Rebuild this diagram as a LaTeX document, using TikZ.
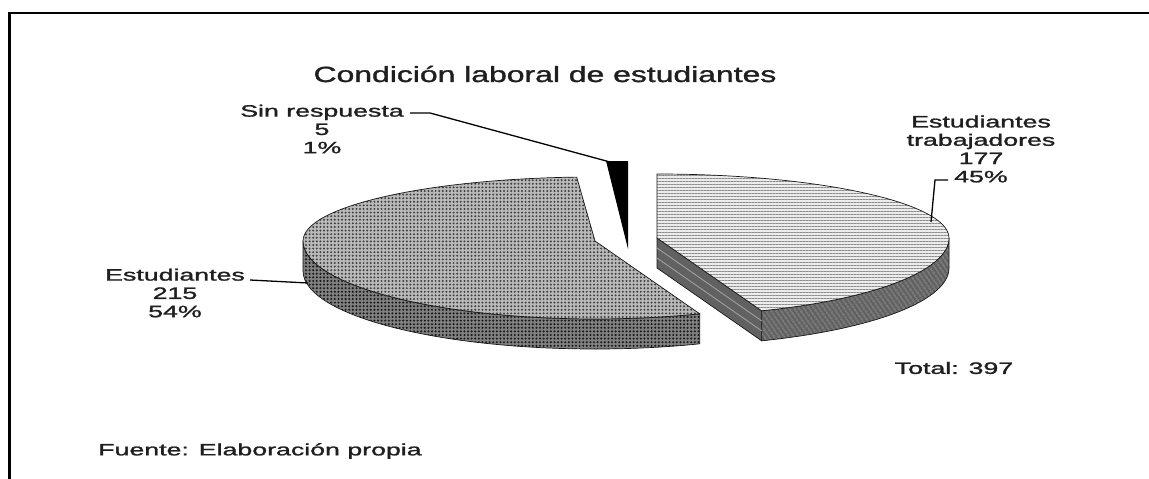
\documentclass[tikz,border=0pt]{standalone}
\usepackage{fontspec}
\setmainfont{Liberation Sans}
\newfontfamily\lblfont[FakeBold=1.2]{Liberation Sans}
\usetikzlibrary{patterns.meta,calc}
\newcommand{\sx}[1]{\scalebox{1.62}[1]{#1}}
\begin{document}
\begin{tikzpicture}[x=1pt,y=-1pt,
  lbl/.style={font=\lblfont\fontsize{16.5}{18.3}\selectfont, text=black!88, align=center, inner sep=0pt},
  ttl/.style={font=\lblfont\fontsize{22}{24}\selectfont, text=black!88, inner sep=0pt},
  lead/.style={line width=1.3pt, black},
  estTop/.style={preaction={fill=gray!55}, pattern={Dots[distance=3.6pt,radius=1.1pt]}, pattern color=black!75},
  estSide/.style={preaction={fill=black!50}, pattern={Dots[distance=3.6pt,radius=1.15pt]}, pattern color=black!90},
  etTop/.style={preaction={fill=gray!15}, pattern={Lines[angle=0,distance=3pt,line width=1pt]}, pattern color=gray!90},
  etSide/.style={preaction={fill=black!62}, pattern={Lines[angle=-55,distance=4pt,line width=0.9pt]}, pattern color=gray!70},
  etCut/.style={fill=black!62},
  edge/.style={draw=black!90, line width=0.7pt}
]
\useasboundingbox (0,0) rectangle (1149,479);
% frame
\draw[line width=2.6pt] (9.5,479) -- (9.5,13) -- (1149,13);

% ---------- Estudiantes trabajadores slice ----------
\coordinate (c1) at (657,238);
\path[etSide] (949,238) arc[start angle=0,end angle=69,x radius=292,y radius=78] -- ++(0,30)
   arc[start angle=69,end angle=0,x radius=292,y radius=78] -- cycle;
\draw[edge] (949,238) arc[start angle=0,end angle=69,x radius=292,y radius=78] -- ++(0,30)
   arc[start angle=69,end angle=0,x radius=292,y radius=78] -- cycle;
\path[etCut,edge] (c1) -- ($(c1)+(104.6,72.8)$) -- ++(0,30) -- ($(c1)+(0,30)$) -- cycle;
\draw[gray!75, line width=0.9pt] ($(c1)+(0,10)$) -- ($(c1)+(104.6,82.8)$);
\draw[gray!75, line width=0.9pt] ($(c1)+(0,20)$) -- ($(c1)+(104.6,92.8)$);
\path[etTop] (c1) -- ++(0,-64) arc[start angle=-90,end angle=0,x radius=292,y radius=64]
   arc[start angle=0,end angle=69,x radius=292,y radius=78] -- cycle;
\draw[edge] (c1) -- ++(0,-64) arc[start angle=-90,end angle=0,x radius=292,y radius=64]
   arc[start angle=0,end angle=69,x radius=292,y radius=78] -- cycle;

% ---------- Estudiantes slice ----------
\coordinate (c2) at (595,241);
\path[estSide] (303,241) arc[start angle=-180,end angle=-291,x radius=292,y radius=78] -- ++(0,30)
   arc[start angle=-291,end angle=-180,x radius=292,y radius=78] -- cycle;
\draw[edge] (303,241) arc[start angle=-180,end angle=-291,x radius=292,y radius=78] -- ++(0,30)
   arc[start angle=-291,end angle=-180,x radius=292,y radius=78] -- cycle;
\path[estTop] (c2) -- ($(c2)+(-18.3,-63.9)$) arc[start angle=-93.6,end angle=-180,x radius=292,y radius=64]
   arc[start angle=-180,end angle=-291,x radius=292,y radius=78] -- cycle;
\draw[edge] (c2) -- ($(c2)+(-18.3,-63.9)$) arc[start angle=-93.6,end angle=-180,x radius=292,y radius=64]
   arc[start angle=-180,end angle=-291,x radius=292,y radius=78] -- cycle;

% ---------- Sin respuesta slice ----------
\path[fill=black] (606,161) -- (628,161) -- (628,249) -- cycle;

% ---------- labels ----------
\node[ttl] (title) at (545,74) {\scalebox{1.45}[1]{Condición laboral de estudiantes}};
\node[lbl] (sr) at (322,129) {\sx{Sin respuesta}\\\sx{5}\\\sx{1\%}};
\node[lbl] (est) at (175,293) {\sx{Estudiantes}\\\sx{215}\\\sx{54\%}};
\node[lbl] (et) at (981,149) {\sx{Estudiantes}\\\sx{trabajadores}\\\sx{177}\\\sx{45\%}};
\node[lbl] (tot) at (954,368) {\sx{Total: 397}};
\node[lbl] (src) at (260,451) {\sx{Fuente: Elaboración propia}};

% ---------- leader lines ----------
\coordinate (srA) at (410,113);
\coordinate (srB) at (430,113);
\coordinate (srC) at (610,162);
\draw[lead] (srA) -- (srB) -- (srC);
\coordinate (estA) at (250,280);
\coordinate (estB) at (308,283);
\draw[lead] (estA) -- (estB);
\coordinate (etA) at (948,180);
\coordinate (etB) at (935,180);
\coordinate (etC) at (931,222);
\draw[lead] (etA) -- (etB) -- (etC);
\end{tikzpicture}
\end{document}
